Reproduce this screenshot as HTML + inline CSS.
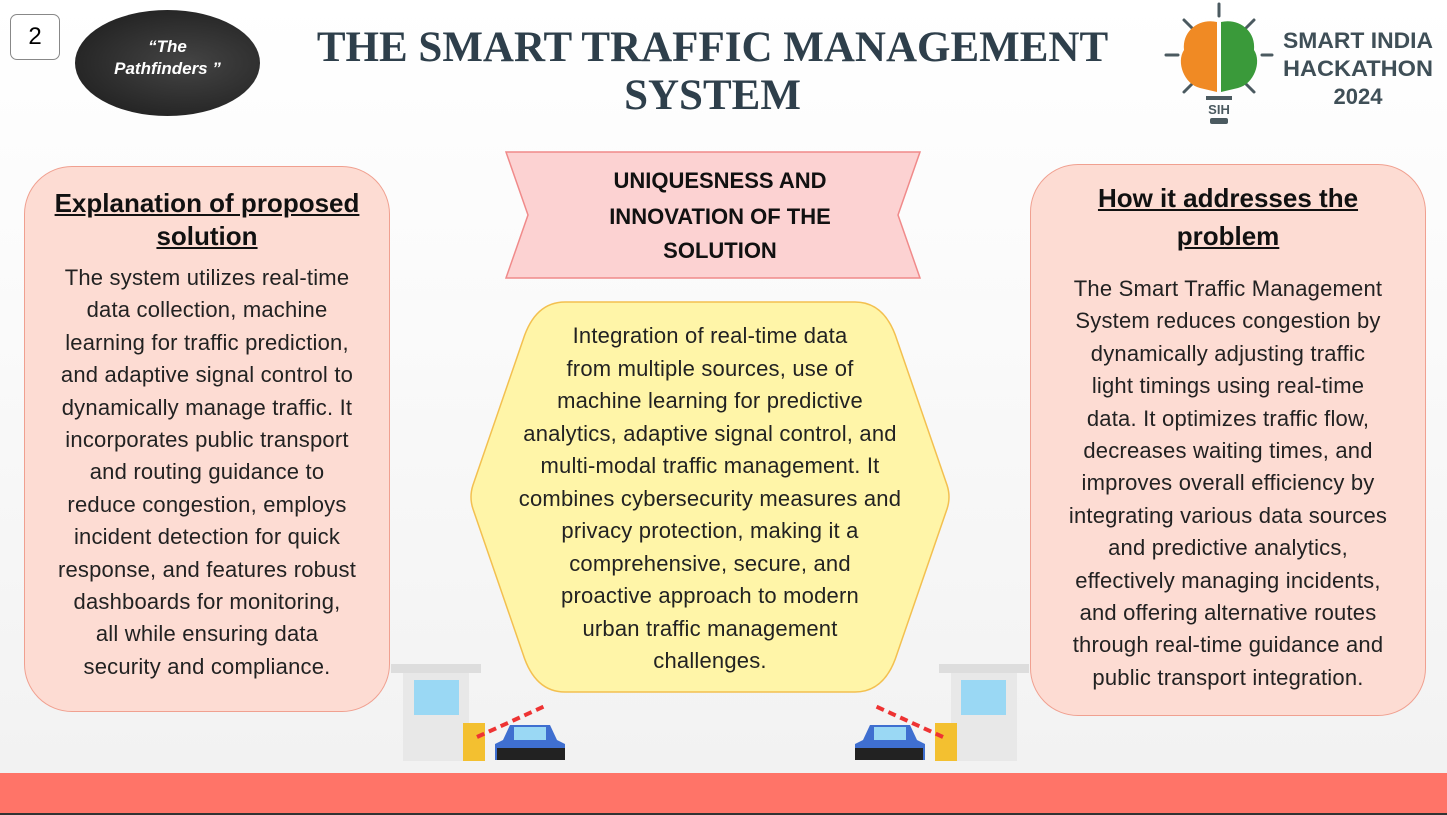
<!DOCTYPE html>
<html><head><meta charset="utf-8">
<style>
*{margin:0;padding:0;box-sizing:border-box}
body{width:1447px;height:815px;overflow:hidden;position:relative;background:linear-gradient(#fff 0%,#fafafa 40%,#f2f2f2 95%);font-family:"Liberation Sans",sans-serif}
.abs{position:absolute}
.card{position:absolute;background:#fddcd3;border:1.5px solid #f0a090;border-radius:48px;text-align:center;color:#222}
.card h2{font-size:26px;font-weight:bold;text-decoration:underline;line-height:33px;color:#111}
.body{font-size:22px;line-height:32.4px;color:#222;white-space:nowrap;letter-spacing:0.2px}
</style></head><body>
<div class="abs" style="left:10px;top:14px;width:50px;height:46px;border:1.5px solid #888;border-radius:7px;background:#fff;font-size:24px;text-align:center;line-height:44px">2</div>
<div class="abs" style="left:75px;top:10px;width:185px;height:106px;border-radius:50%;background:radial-gradient(ellipse at 60% 50%,#444,#1a1a1a);color:#fff;font-style:italic;font-weight:bold;font-size:17px;text-align:center;padding-top:26px;line-height:22px">“The<br>Pathfinders ”</div>
<div class="abs" style="left:290px;top:24px;width:845px;text-align:center;font-family:'Liberation Serif',serif;font-weight:bold;font-size:43px;line-height:48px;color:#2e3f4b">THE SMART TRAFFIC MANAGEMENT SYSTEM</div>
<svg class="abs" style="left:1160px;top:0" width="287" height="130">
<g stroke="#4b5a60" stroke-width="3" stroke-linecap="round"><line x1="59" y1="4" x2="59" y2="16"/><line x1="24" y1="20" x2="32" y2="28"/><line x1="94" y1="20" x2="86" y2="28"/><line x1="6" y1="55" x2="18" y2="55"/><line x1="102" y1="55" x2="112" y2="55"/><line x1="24" y1="92" x2="32" y2="84"/><line x1="94" y1="92" x2="86" y2="84"/></g>
<path d="M57 22 C40 18 22 30 24 50 C16 62 24 84 40 88 L57 92Z" fill="#f08a24"/>
<path d="M61 22 C78 18 96 30 94 50 C102 62 94 84 78 88 L61 92Z" fill="#3a9a3a"/>
<rect x="46" y="96" width="26" height="4" fill="#4b5a60"/><text x="59" y="114" font-size="13" font-weight="bold" text-anchor="middle" fill="#4b5a60">SIH</text><rect x="50" y="118" width="18" height="6" rx="2" fill="#4b5a60"/>
<g font-family="Liberation Sans" font-weight="bold" font-size="22" fill="#3f4f57" text-anchor="middle"><text x="198" y="48" textLength="150" lengthAdjust="spacingAndGlyphs">SMART INDIA</text><text x="198" y="76" textLength="150" lengthAdjust="spacingAndGlyphs">HACKATHON</text><text x="198" y="104">2024</text></g>
</svg>
<div class="card" style="left:24px;top:166px;width:366px;height:546px;padding-top:20px">
<h2>Explanation of proposed<br>solution</h2>
<div class="body" style="margin-top:9px">The system utilizes real-time<br>data collection, machine<br>learning for traffic prediction,<br>and adaptive signal control to<br>dynamically manage traffic. It<br>incorporates public transport<br>and routing guidance to<br>reduce congestion, employs<br>incident detection for quick<br>response, and features robust<br>dashboards for monitoring,<br>all while ensuring data<br>security and compliance.</div></div>
<svg class="abs" style="left:500px;top:148px" width="426" height="134">
<polygon points="6,4 420,4 398,67 420,130 6,130 28,67" fill="#fcd2d2" stroke="#f08a8a" stroke-width="1.5"/>
<g font-weight="bold" font-size="22" fill="#111" text-anchor="middle"><text x="220" y="40">UNIQUESNESS AND</text><text x="220" y="76">INNOVATION OF THE</text><text x="220" y="110">SOLUTION</text></g></svg>
<svg class="abs" style="left:465px;top:300px" width="490" height="396">
<path d="M100 2 L390 2 Q420 2 432 40 L482 185 Q486 197 482 209 L432 354 Q420 392 390 392 L100 392 Q70 392 58 354 L8 209 Q4 197 8 185 L58 40 Q70 2 100 2Z" fill="#fff5a8" stroke="#f3c050" stroke-width="1.5"/></svg>
<div class="abs body" style="left:480px;top:320px;width:460px;text-align:center;line-height:32.5px">Integration of real-time data<br>from multiple sources, use of<br>machine learning for predictive<br>analytics, adaptive signal control, and<br>multi-modal traffic management. It<br>combines cybersecurity measures and<br>privacy protection, making it a<br>comprehensive, secure, and<br>proactive approach to modern<br>urban traffic management<br>challenges.</div>
<div class="card" style="left:1030px;top:164px;width:396px;height:552px;padding-top:14px">
<h2 style="line-height:38px">How it addresses the<br>problem</h2>
<div class="body" style="margin-top:18px">The Smart Traffic Management<br>System reduces congestion by<br>dynamically adjusting traffic<br>light timings using real-time<br>data. It optimizes traffic flow,<br>decreases waiting times, and<br>improves overall efficiency by<br>integrating various data sources<br>and predictive analytics,<br>effectively managing incidents,<br>and offering alternative routes<br>through real-time guidance and<br>public transport integration.</div></div>
<svg class="abs" style="left:385px;top:660px" width="200" height="105">
<rect x="6" y="4" width="90" height="9" fill="#ddd"/><rect x="18" y="13" width="66" height="88" fill="#e8e8e8"/><rect x="29" y="20" width="45" height="35" fill="#9ad8f4"/>
<rect x="78" y="63" width="22" height="38" fill="#f3c030"/><line x1="92" y1="77" x2="160" y2="46" stroke="#e33" stroke-width="4" stroke-dasharray="8 5"/>
<path d="M118 80 L125 65 L165 65 L172 80 L180 84 L180 100 L110 100 L110 84Z" fill="#3f6fd0"/><rect x="112" y="88" width="68" height="12" fill="#222"/><rect x="129" y="67" width="32" height="13" fill="#9ad8f4"/></svg>
<svg class="abs" style="left:850px;top:660px" width="185" height="105">
<g transform="translate(185,0) scale(-1,1)">
<rect x="6" y="4" width="90" height="9" fill="#ddd"/><rect x="18" y="13" width="66" height="88" fill="#e8e8e8"/><rect x="29" y="20" width="45" height="35" fill="#9ad8f4"/>
<rect x="78" y="63" width="22" height="38" fill="#f3c030"/><line x1="92" y1="77" x2="160" y2="46" stroke="#e33" stroke-width="4" stroke-dasharray="8 5"/>
<path d="M118 80 L125 65 L165 65 L172 80 L180 84 L180 100 L110 100 L110 84Z" fill="#3f6fd0"/><rect x="112" y="88" width="68" height="12" fill="#222"/><rect x="129" y="67" width="32" height="13" fill="#9ad8f4"/></g></svg>
<div class="abs" style="left:0;top:773px;width:1447px;height:40px;background:#ff7468"></div>
<div class="abs" style="left:0;top:813px;width:1447px;height:2px;background:#333"></div>
</body></html>
